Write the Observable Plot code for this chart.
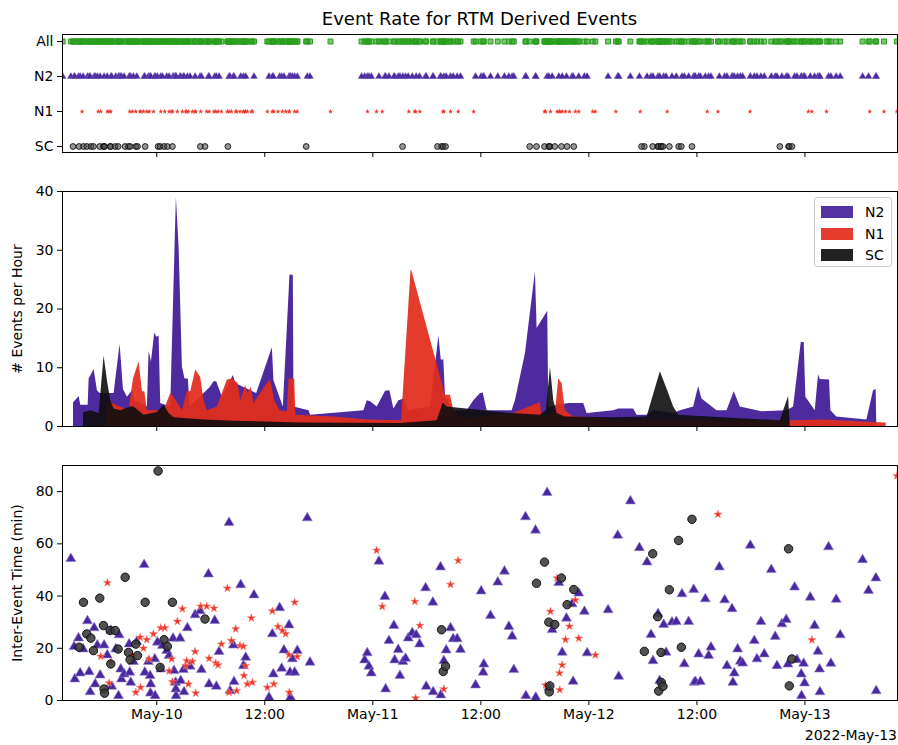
<!DOCTYPE html>
<html><head><meta charset="utf-8">
<script src="https://cdn.jsdelivr.net/npm/d3@7"></script>
<script src="https://cdn.jsdelivr.net/npm/@observablehq/plot@0.6"></script>
<style>
body{margin:0;background:#fff;font-family:"DejaVu Sans",sans-serif;}
#wrap{position:relative;width:898px;height:745px;overflow:hidden;background:#fff;}
#wrap svg{display:block;}
.title{position:absolute;left:62px;width:835px;top:8px;text-align:center;font-size:18px;color:#000;line-height:22px;}
.date{position:absolute;right:1px;top:727px;font-size:14px;color:#000;}
.legend{position:absolute;left:814px;top:197px;width:78px;height:70px;border:1px solid #ccc;border-radius:3px;background:rgba(255,255,255,0.8);box-sizing:border-box;}
.legend .row{position:absolute;left:6px;height:14px;font-size:14px;line-height:14px;}
.legend .sw{position:absolute;left:0;top:1px;width:32px;height:12px;}
.legend .lb{position:absolute;left:44px;top:0;}
</style></head>
<body><div id="wrap"></div>
<script>
// ---------- data (hours since 2022-05-09 00:00 UTC) ----------
const categories = ["All", "N2", "N1", "SC"];
const tickHours = [24, 36, 48, 60, 72, 84, 96];
const xDomainHours = [13.53, 106.28];

// inter-event times [hour, minutes]
const n2Gaps = [[14.46,54.3],[14.82,20.6],[14.9,8.2],[15.31,23.9],[15.49,10.5],[15.82,19.7],[16.3,30.5],[16.49,11.0],[16.6,3.3],[17.05,27.8],[17.16,6.3],[17.4,21.2],[17.71,9.7],[18.15,21.2],[18.5,17.4],[18.9,26.8],[19.0,5.4],[19.45,19.7],[19.75,1.8],[19.82,25.1],[20.0,12.0],[20.08,8.2],[20.37,10.1],[20.93,21.6],[21.0,10.8],[21.11,6.9],[21.41,14.9],[21.78,22.5],[22.6,52.0],[22.67,10.8],[23.07,14.9],[23.26,9.5],[23.3,2.8],[23.33,6.3],[23.78,15.9],[23.82,1.8],[24.07,22.3],[24.44,12.0],[24.63,21.0],[25.11,19.1],[25.37,17.2],[25.81,23.8],[25.92,11.4],[26.1,6.9],[26.12,4.4],[26.14,1.8],[26.59,23.8],[26.66,7.6],[26.96,11.8],[27.03,3.3],[27.4,27.8],[27.7,13.1],[28.26,32.8],[28.81,34.3],[28.96,11.8],[29.74,48.4],[29.81,6.3],[30.44,30.6],[30.62,5.4],[30.92,18.7],[32.03,68.1],[32.14,3.7],[32.51,21.2],[32.58,7.2],[33.32,44.3],[33.62,13.3],[33.88,16.5],[34.8,40.4],[36.47,1.2],[36.84,25.5],[36.95,10.1],[37.65,35.5],[37.87,12.3],[38.13,19.3],[38.69,28.9],[38.8,10.8],[38.85,1.2],[39.06,15.9],[39.32,10.8],[39.61,19.1],[40.72,69.9],[41.02,14.6],[47.09,15.5],[47.38,18.2],[47.57,13.1],[47.83,10.5],[48.68,53.3],[49.34,39.8],[49.42,4.4],[49.79,22.9],[50.34,28.7],[50.42,15.5],[50.82,19.5],[51.01,9.5],[51.34,14.9],[51.64,16.1],[51.93,23.9],[52.38,25.9],[52.82,25.1],[53.19,21.6],[53.86,43.1],[53.93,5.4],[54.67,37.6],[54.7,3.3],[55.52,51.1],[55.55,2.1],[55.89,15.2],[56.15,19.3],[56.63,27.8],[56.93,23.6],[57.37,23.6],[57.74,19.5],[59.41,5.9],[60.03,41.9],[60.26,10.8],[60.33,13.9],[61.07,32.5],[61.88,45.3],[62.62,49.5],[63.11,28.3],[63.48,24.6],[63.66,11.8],[64.96,70.3],[65.0,1.8],[66.07,65.2],[66.1,1.2],[67.36,79.6],[67.55,5.0],[67.92,27.1],[68.66,45.1],[69.03,18.4],[69.51,31.5],[70.13,37.0],[70.25,7.3],[70.87,41.1],[71.5,34.1],[71.8,18.2],[74.13,34.7],[75.2,63.2],[75.31,9.2],[76.61,76.4],[77.61,58.5],[78.46,53.0],[78.9,25.2],[79.12,15.2],[79.68,33.2],[79.86,7.6],[80.31,29.1],[80.57,18.4],[81.23,30.0],[81.71,30.2],[82.34,40.8],[82.6,14.0],[83.08,30.2],[83.64,42.5],[83.7,6.9],[83.83,7.2],[84.19,17.8],[84.38,7.2],[84.93,38.9],[85.3,17.2],[85.56,20.4],[86.49,51.1],[87.08,38.5],[87.34,13.3],[87.9,35.1],[88.0,6.9],[88.15,10.5],[88.52,19.7],[88.82,15.0],[89.08,14.3],[89.93,59.4],[90.37,22.9],[90.67,15.9],[91.11,30.2],[91.48,17.8],[92.26,50.1],[92.7,24.5],[92.89,13.3],[93.44,29.3],[93.92,31.0],[94.11,13.9],[94.85,43.4],[95.11,15.6],[95.59,10.1],[95.62,1.8],[95.85,14.2],[95.96,6.7],[96.59,39.5],[97.07,28.7],[97.44,18.8],[97.62,12.0],[97.66,3.3],[98.62,58.8],[98.88,14.2],[99.47,38.7],[99.92,25.1],[102.4,53.9],[103.06,42.1],[103.88,46.9],[103.91,3.7]];
const n1Gaps = [[17.78,16.9],[18.52,45.1],[18.71,6.7],[18.89,14.6],[21.3,17.2],[21.67,3.1],[22.15,24.2],[22.2,5.0],[22.52,20.0],[22.89,23.3],[23.15,15.9],[23.63,25.5],[24.44,27.8],[24.89,27.8],[25.37,11.3],[25.66,15.9],[25.74,7.2],[26.29,30.3],[26.85,35.1],[27.22,13.3],[27.33,15.2],[27.51,6.3],[27.96,14.9],[28.26,18.7],[28.33,2.8],[28.88,36.1],[29.55,36.1],[29.81,16.1],[30.36,35.3],[30.55,14.3],[30.81,13.6],[31.18,21.6],[31.84,43.0],[32.03,3.1],[32.29,22.9],[32.77,27.4],[32.88,3.7],[33.25,21.0],[33.62,20.7],[33.69,9.5],[33.88,13.3],[34.06,6.3],[34.51,31.6],[34.62,6.9],[36.28,5.0],[36.84,34.2],[37.0,6.3],[37.47,28.3],[37.95,26.8],[38.32,25.5],[38.69,17.5],[38.72,3.1],[39.32,37.6],[39.61,16.8],[48.42,57.5],[49.05,36.0],[52.67,37.9],[52.75,0.9],[53.23,28.7],[55.89,4.4],[56.63,44.4],[57.48,53.6],[67.18,5.9],[67.73,34.1],[68.47,46.9],[68.73,10.5],[68.77,4.1],[69.03,13.6],[69.4,23.3],[69.84,28.4],[70.5,38.5],[70.87,23.8],[72.72,17.4],[86.34,71.3],[96.77,23.2],[106.21,86.0]];
const scGaps = [[15.38,20.4],[15.86,37.6],[16.23,25.5],[16.68,23.9],[16.97,19.1],[17.67,39.2],[18.08,28.7],[18.15,4.4],[18.2,2.8],[18.82,26.8],[18.89,14.0],[19.38,26.8],[19.71,19.7],[20.49,47.2],[20.86,18.4],[21.04,15.6],[21.67,21.6],[21.86,17.2],[22.71,37.6],[24.15,87.9],[24.37,12.7],[24.81,23.3],[25.18,20.7],[25.74,37.6],[29.36,31.2],[55.63,27.1],[55.82,11.1],[56.08,13.1],[66.18,44.9],[67.07,53.0],[67.55,30.0],[67.6,3.3],[67.66,5.6],[68.21,29.1],[68.95,46.9],[69.58,36.7],[70.32,42.5],[78.16,18.8],[79.09,56.2],[79.64,32.1],[79.75,3.6],[80.01,18.4],[80.05,6.9],[80.23,5.4],[80.94,42.4],[81.97,61.3],[82.27,20.4],[83.45,69.4],[94.18,58.1],[94.26,5.6],[94.55,15.9]];

// events whose gap is beyond the plotted range (strip only)
const n2Solo = [13.55, 46.75];
const n1Solo = [15.7, 17.5, 21.0, 43.3, 47.4, 52.0, 55.8, 59.2, 67.08, 72.43, 75.0, 77.7, 80.7, 85.15, 89.9, 96.38, 98.4, 103.2, 104.78];
const scSolo = [14.7, 28.84, 31.9, 40.6, 51.3, 55.18, 65.43, 77.85, 93.21];

// event rate [hour, events per hour]
const n2Rate = [[14.75,0],[14.75,4.0],[15.38,5.1],[15.56,3.6],[16.38,3.6],[16.49,8.1],[17.04,9.7],[17.41,6.1],[17.71,5.6],[19.26,5.6],[19.93,14.0],[20.3,6.3],[20.74,5.0],[21.3,6.1],[21.56,4.4],[22.96,3.3],[23.15,12.8],[23.41,11.0],[23.78,15.9],[24.0,15.2],[24.26,15.4],[24.44,3.9],[25.55,3.3],[26.18,39.0],[26.48,30.6],[26.85,10.1],[27.14,8.1],[27.51,8.1],[27.7,3.3],[29.92,6.6],[30.36,7.6],[30.66,7.6],[31.29,5.0],[32.51,8.7],[32.77,7.3],[35.1,5.6],[36.84,13.4],[37.02,7.8],[38.06,3.3],[38.8,25.8],[39.17,25.7],[39.24,3.3],[40.91,2.7],[41.09,1.9],[47.01,2.7],[47.38,4.4],[47.75,4.2],[48.49,3.3],[49.42,6.0],[49.9,6.1],[50.34,3.0],[50.9,4.4],[51.45,4.7],[52.01,2.7],[54.41,3.3],[55.34,15.4],[55.6,11.3],[55.89,11.3],[56.07,5.0],[57.0,2.7],[58.48,2.7],[59.22,4.4],[59.96,5.6],[60.26,5.7],[60.7,2.7],[63.47,2.7],[63.84,4.4],[64.95,12.4],[66.06,26.3],[66.25,16.7],[67.43,19.6],[67.54,3.3],[69.76,3.9],[71.43,3.9],[71.8,2.2],[74.76,2.7],[75.31,3.0],[76.98,3.0],[77.35,1.9],[78.46,1.9],[79.2,2.7],[81.42,2.2],[82.16,2.7],[83.64,3.3],[84.19,6.8],[84.56,4.7],[86.23,2.7],[87.34,2.7],[88.15,5.9],[88.82,3.3],[91.22,2.5],[94.0,2.7],[94.74,3.3],[95.59,14.3],[95.92,14.3],[96.1,5.0],[97.14,2.7],[97.51,8.8],[97.7,8.0],[98.73,7.9],[98.88,2.7],[99.54,1.6],[102.88,1.1],[103.62,6.1],[103.91,6.3],[103.98,0]];
const n1Rate = [[18.45,0],[18.45,4.4],[19.26,3.8],[20.93,2.7],[21.41,8.1],[22.04,11.0],[22.41,5.9],[22.67,5.9],[22.96,2.7],[24.81,2.7],[25.55,5.6],[25.92,5.0],[26.85,2.7],[27.4,6.0],[27.77,5.9],[28.33,9.6],[28.88,8.4],[29.25,4.4],[29.62,2.7],[30.73,3.3],[31.84,7.9],[32.4,8.1],[33.03,7.3],[33.32,4.4],[33.88,7.0],[34.14,5.6],[34.51,6.7],[34.8,3.9],[36.28,7.3],[36.65,7.9],[37.1,4.4],[37.69,2.7],[38.5,2.5],[38.69,8.1],[39.32,8.1],[39.46,1.9],[43.68,1.6],[47.38,1.1],[51.19,1.0],[52.25,26.7],[52.37,26.3],[56.07,5.3],[56.63,5.3],[57.0,2.7],[57.74,1.3],[63.66,2.2],[66.62,4.1],[66.8,1.6],[68.28,2.2],[68.65,8.1],[69.02,7.3],[69.39,2.7],[70.32,1.6],[72.91,1.5],[74.76,1.0],[94.37,1.0],[98.07,1.1],[103.62,0.7],[105.02,0.6],[105.02,0]];
const scRate = [[15.86,0],[15.86,2.3],[16.67,2.7],[17.6,2.2],[18.15,12.0],[18.52,7.8],[18.89,4.4],[19.26,3.0],[20.0,2.7],[21.11,3.3],[21.48,3.3],[22.59,1.9],[24.07,2.4],[24.81,3.6],[25.37,2.2],[25.92,1.5],[29.25,1.1],[32.58,0.9],[39.98,0.6],[51.08,0.5],[55.15,1.0],[55.82,4.0],[56.26,3.3],[63.47,2.2],[66.62,1.9],[67.28,2.7],[67.73,10.1],[68.1,4.4],[68.47,2.2],[69.39,1.6],[74.76,1.5],[78.46,1.6],[79.94,9.3],[80.68,6.4],[81.42,3.3],[81.97,1.9],[88.82,1.3],[93.26,1.0],[94.18,5.1],[94.37,0]];

// ---------- colours ----------
const C = {N2: "#43209a", N1: "#e22d1c", SC: "#0e0e0e", All: "#2a9e1e",
           tri: "#4a279e", star: "#ef3628", circ: "#3a3a3a"};

// ---------- build ----------
const T0 = Date.UTC(2022, 4, 9);
const toDate = h => new Date(T0 + h * 3600e3);
const xDomain = xDomainHours.map(toDate);
const xTicks = tickHours.map(toDate);
const fmtTick = d => d.getUTCHours() === 0 ? "May-" + String(d.getUTCDate()).padStart(2, "0") : d3.utcFormat("%H:%M")(d);
const pairs = arr => arr.map(([h, v]) => ({t: toDate(h), v}));

const n2Times = n2Gaps.map(d => d[0]).concat(n2Solo);
const n1Times = n1Gaps.map(d => d[0]).concat(n1Solo);
const scTimes = scGaps.map(d => d[0]).concat(scSolo);
const strip = (cat, hours) => hours.map(h => ({t: toDate(h), cat}));
const allStrip = strip("All", n2Times.concat(n1Times, scTimes));

const common = {
  width: 898, marginLeft: 62, marginRight: 1,
  style: {fontFamily: "DejaVu Sans, sans-serif", fontSize: "14px", color: "#000", background: "transparent", overflow: "visible"},
  x: {type: "utc", domain: xDomain, label: null}
};

const wrap = document.getElementById("wrap");

const p1 = Plot.plot({
  ...common, height: 162, marginTop: 34, marginBottom: 10,
  y: {type: "point", domain: categories, padding: 0.155, label: null},
  marks: [
    Plot.axisX({ticks: xTicks, tickFormat: () => "", tickSize: 5}),
    Plot.axisY({tickSize: 5, tickPadding: 4, label: null}),
    Plot.dot(allStrip, {x: "t", y: "cat", symbol: "square", r: 2.8, fill: C.All, fillOpacity: 0.6, stroke: C.All, strokeWidth: 1, clip: true}),
    Plot.dot(strip("N2", n2Times), {x: "t", y: "cat", symbol: "triangle", r: 2.6, fill: C.tri, stroke: "#7d6cc4", strokeWidth: 0.4, clip: true}),
    Plot.dot(strip("N1", n1Times), {x: "t", y: "cat", symbol: "star", r: 1.6, fill: C.star, stroke: "none", clip: true}),
    Plot.dot(strip("SC", scTimes), {x: "t", y: "cat", symbol: "circle", r: 2.9, fill: "#444", fillOpacity: 0.55, stroke: "#111", strokeWidth: 0.9, clip: true}),
    Plot.frame({stroke: "#000", strokeWidth: 1})
  ]
});

const p2 = Plot.plot({
  ...common, height: 274, marginTop: 29, marginBottom: 10,
  y: {domain: [0, 40], label: null},
  marks: [
    Plot.areaY(pairs(n2Rate), {x: "t", y: "v", fill: C.N2, fillOpacity: 0.95, curve: "linear"}),
    Plot.areaY(pairs(n1Rate), {x: "t", y: "v", fill: C.N1, fillOpacity: 0.93, curve: "linear"}),
    Plot.areaY(pairs(scRate), {x: "t", y: "v", fill: C.SC, fillOpacity: 0.9, curve: "linear"}),
    Plot.axisX({ticks: xTicks, tickFormat: () => "", tickSize: 5}),
    Plot.axisY({ticks: [0, 10, 20, 30, 40], tickSize: 5, tickPadding: 4, label: "# Events per Hour", labelAnchor: "center", labelArrow: "none", labelOffset: 50}),
    Plot.frame({stroke: "#000", strokeWidth: 1})
  ]
});

const p3 = Plot.plot({
  ...common, height: 309, marginTop: 29, marginBottom: 45,
  y: {domain: [0, 90], label: null},
  marks: [
    Plot.dot(pairs(n2Gaps), {x: "t", y: "v", symbol: "triangle", r: 3.7, fill: C.tri, stroke: "#8f80d0", strokeWidth: 0.6, clip: true}),
    Plot.dot(pairs(n1Gaps), {x: "t", y: "v", symbol: "star", r: 2.6, fill: C.star, stroke: "#f7867a", strokeWidth: 0.5, clip: true}),
    Plot.dot(pairs(scGaps), {x: "t", y: "v", symbol: "circle", r: 4.2, fill: C.circ, fillOpacity: 0.88, stroke: "#111", strokeWidth: 1, clip: true}),
    Plot.axisX({ticks: xTicks, tickFormat: fmtTick, tickSize: 5, tickPadding: 4}),
    Plot.axisY({ticks: [0, 20, 40, 60, 80], tickSize: 5, tickPadding: 4, label: "Inter-Event Time (min)", labelAnchor: "center", labelArrow: "none", labelOffset: 50}),
    Plot.frame({stroke: "#000", strokeWidth: 1})
  ]
});

wrap.append(p1, p2, p3);

const title = document.createElement("div");
title.className = "title";
title.textContent = "Event Rate for RTM Derived Events";
wrap.append(title);

const dateLbl = document.createElement("div");
dateLbl.className = "date";
dateLbl.textContent = "2022-May-13";
wrap.append(dateLbl);

const legend = document.createElement("div");
legend.className = "legend";
[["N2", C.N2], ["N1", C.N1], ["SC", C.SC]].forEach(([k, c], i) => {
  const row = document.createElement("div");
  row.className = "row";
  row.style.top = (7 + i * 21.5) + "px";
  row.innerHTML = `<span class="sw" style="background:${c};opacity:0.92"></span><span class="lb">${k}</span>`;
  legend.append(row);
});
wrap.append(legend);
</script>
</body></html>
